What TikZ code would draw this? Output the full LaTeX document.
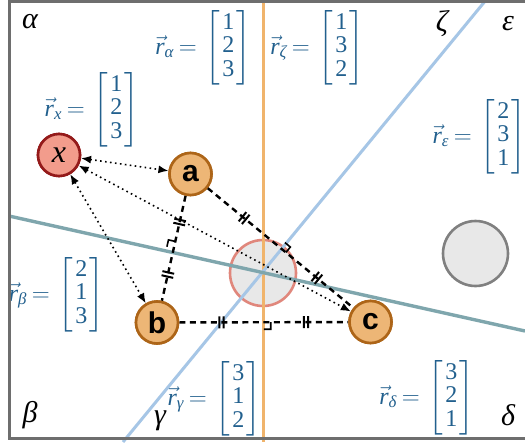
\documentclass[tikz,border=0pt]{standalone}
\usepackage{amsmath}
\usepackage{fontspec}
\setmainfont{Liberation Serif}
\newfontfamily\nodefont{Liberation Sans}
\usetikzlibrary{arrows.meta,calc,decorations.markings}
\newcommand\rv[1]{\vec{\textit{r}}_{\textit{#1}}\mskip3.5mu{=}\mskip3.5mu}
\newcommand\pd[1]{\hspace{2pt}\text{#1}\hspace{2pt}}
\newcommand\colv[3]{\begin{bmatrix}\pd{#1}\\\pd{#2}\\\pd{#3}\end{bmatrix}}
\definecolor{frameC}{HTML}{6E6E6E}
\definecolor{orangeL}{HTML}{F0B46C}
\definecolor{blueL}{HTML}{A6C6E6}
\definecolor{tealL}{HTML}{7FA6AD}
\definecolor{nodeFill}{HTML}{EDB676}
\definecolor{nodeDraw}{HTML}{AD6518}
\definecolor{xFill}{HTML}{F29C8C}
\definecolor{xDraw}{HTML}{941A1A}
\definecolor{ccFill}{HTML}{E8E8E8}
\definecolor{ccDraw}{HTML}{E0877C}
\definecolor{grayDraw}{HTML}{808080}
\definecolor{lblC}{HTML}{22608E}
\tikzset{
  pt/.style={circle, draw=nodeDraw, fill=nodeFill, line width=2.6pt, minimum size=42pt, inner sep=0pt,
    font=\nodefont\bfseries\fontsize{30}{30}\selectfont},
  xpt/.style={pt, draw=xDraw, fill=xFill, font=\fontsize{32}{32}\selectfont\itshape},
  lbl/.style={text=lblC, font=\fontsize{24}{23.5}\selectfont, inner sep=0pt, anchor=east},
  region/.style={font=\fontsize{30}{30}\selectfont\itshape, inner sep=0pt},
  bisect/.style={line width=3pt},
  dotarrow/.style={line width=1.6pt, dash pattern=on 1.6pt off 3.4pt, {Latex[length=10pt,width=8pt]}-{Latex[length=10pt,width=8pt]}},
  dashseg/.style={line width=2.4pt, dash pattern=on 6pt off 4.5pt, postaction={decorate},
    decoration={markings,
      mark=at position 0.25 with {\draw[solid,line width=2pt] (-2.1pt,-6pt)--(-2.1pt,6pt) (2.1pt,-6pt)--(2.1pt,6pt);},
      mark=at position 0.75 with {\draw[solid,line width=2pt] (-2.1pt,-6pt)--(-2.1pt,6pt) (2.1pt,-6pt)--(2.1pt,6pt);}}},
  rmark/.style={line width=1.6pt, solid}
}
\begin{document}
\begin{tikzpicture}[x=1pt,y=-1pt]
\useasboundingbox (0,0) rectangle (525,442);
\clip (0,0) rectangle (525,442);
\fill[white] (0,0) rectangle (525,442);

% circles
\node[circle, draw=ccDraw, fill=ccFill, line width=2.6pt, minimum size=66pt, inner sep=0pt] (cc) at (263,273) {};
\node[circle, draw=grayDraw, fill=ccFill, line width=2.6pt, minimum size=65pt, inner sep=0pt] (gc) at (475.5,253.5) {};

% bisector lines
\coordinate (oT) at (263,0);
\coordinate (oB) at (263,442);
\coordinate (bT) at (486,0);
\coordinate (bB) at (123,442);
\coordinate (tL) at (9,216);
\coordinate (tR) at (525,331);
\draw[bisect, orangeL] (oT) -- (oB);
\draw[bisect, blueL] (bT) -- (bB);
\draw[bisect, tealL, line width=3.4pt] (tL) -- (tR);

% node centres
\coordinate (xc) at (59,155);
\coordinate (ac) at (190.5,174);
\coordinate (bc) at (157,322.5);
\coordinate (cc2) at (370.5,322);

\node[xpt] (x) at (xc) {x};
\node[pt] (a) at (ac) {a};
\node[pt] (b) at (bc) {b};
\node[pt] (c) at (cc2) {c};

% segments
\draw[dashseg] (a) -- (b);
\draw[dashseg] (a) -- (c);
\draw[dashseg] (b) -- (c);

% right-angle marks
\coordinate (mab) at ($(ac)!0.5!(bc)$);
\coordinate (mac) at ($(ac)!0.5!(cc2)$);
\coordinate (mbc) at ($(bc)!0.5!(cc2)$);
\draw[rmark] ($(mab)!7pt!(ac)$) -- ($(mab)!9.9pt!45:(ac)$) -- ($(mab)!7pt!90:(ac)$);
\draw[rmark] ($(mac)!7pt!(cc2)$) -- ($(mac)!9.9pt!45:(cc2)$) -- ($(mac)!7pt!90:(cc2)$);
\draw[rmark] ($(mbc)!7pt!(cc2)$) -- ($(mbc)!9.9pt!-45:(cc2)$) -- ($(mbc)!7pt!-90:(cc2)$);

% dotted arrows
\draw[dotarrow] (x) -- (a);
\draw[dotarrow] (x) -- (b);
\draw[dotarrow] (x) -- (c);

% redraw nodes on top
\node[xpt] at (xc) {x};
\node[pt] at (ac) {a};
\node[pt] at (bc) {b};
\node[pt] at (cc2) {c};

% labels (anchored at right bracket edge)
\node[lbl] (ralpha) at (251,48) {$\rv{α}\colv123$};
\node[lbl] (rzeta) at (364,48) {$\rv{ζ}\colv132$};
\node[lbl] (rx) at (139,110) {$\rv{x}\colv123$};
\node[lbl] (reps) at (526,137) {$\rv{ε}\colv231$};
\node[lbl] (rbeta) at (104,295) {$\rv{β}\colv213$};
\node[lbl] (rgamma) at (261,399) {$\rv{γ}\colv312$};
\node[lbl] (rdelta) at (474,398) {$\rv{δ}\colv321$};

% region names
\node[region] (alpha) at (30,22) {α};
\node[region] (zeta) at (442,24) {ζ};
\node[region] (epsilon) at (508,24) {ε};
\node[region] (beta) at (30,415) {β};
\node[region] (gamma) at (160,421) {γ};
\node[region] (delta) at (508,415) {δ};

% frame
\draw[frameC, line width=2.6pt] (9.5,1.3) rectangle (545,438.7);
\end{tikzpicture}
\end{document}
